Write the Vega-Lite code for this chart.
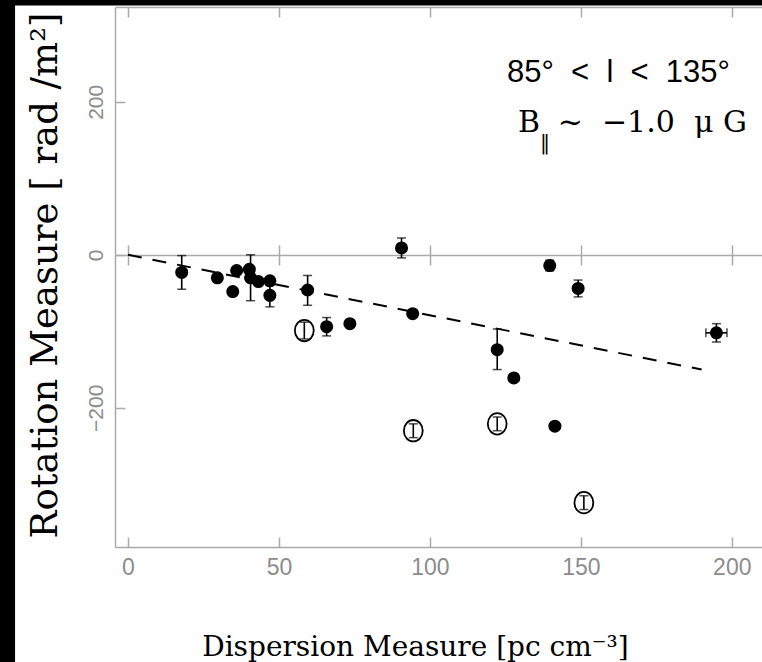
{
  "$schema": "https://vega.github.io/schema/vega-lite/v6.json",
  "width": 647,
  "height": 540,
  "autosize": {"type": "none"},
  "padding": {"left": 115, "top": 7, "right": 0, "bottom": 115},
  "background": "white",
  "config": {"view": {"stroke": null}, "axis": {"grid": false}},
  "datasets": {
    "pts": [
      {"dm": 17.8, "rm": -23, "kind": "filled", "rmLo": -45, "rmHi": -1},
      {"dm": 29.6, "rm": -30, "kind": "filled", "rmLo": -35, "rmHi": -25},
      {"dm": 34.7, "rm": -48, "kind": "filled"},
      {"dm": 36.0, "rm": -20.5, "kind": "filled"},
      {"dm": 40.2, "rm": -19, "kind": "filled"},
      {"dm": 40.6, "rm": -30, "kind": "filled", "rmLo": -60, "rmHi": 0},
      {"dm": 43.2, "rm": -35, "kind": "filled"},
      {"dm": 47.0, "rm": -34, "kind": "filled"},
      {"dm": 47.0, "rm": -53, "kind": "filled", "rmLo": -68, "rmHi": -40},
      {"dm": 59.5, "rm": -46, "kind": "filled", "rmLo": -66, "rmHi": -27},
      {"dm": 65.8, "rm": -94, "kind": "filled", "rmLo": -106, "rmHi": -82},
      {"dm": 73.5, "rm": -90, "kind": "filled"},
      {"dm": 90.6, "rm": 9, "kind": "filled", "rmLo": -4, "rmHi": 22},
      {"dm": 94.3, "rm": -77, "kind": "filled", "rmLo": -81, "rmHi": -73},
      {"dm": 122.3, "rm": -124, "kind": "filled", "rmLo": -150, "rmHi": -97},
      {"dm": 127.8, "rm": -161, "kind": "filled"},
      {"dm": 139.7, "rm": -14, "kind": "filled", "rmLo": -21, "rmHi": -7},
      {"dm": 141.4, "rm": -224, "kind": "filled"},
      {"dm": 149.1, "rm": -44, "kind": "filled", "rmLo": -55, "rmHi": -33},
      {"dm": 194.9, "rm": -102, "kind": "filled", "rmLo": -114, "rmHi": -90, "dmLo": 191.4, "dmHi": 198.4},
      {"dm": 58.4, "rm": -99, "kind": "open", "rmLo": -110, "rmHi": -88},
      {"dm": 94.5, "rm": -230, "kind": "open", "rmLo": -239, "rmHi": -221},
      {"dm": 122.3, "rm": -221, "kind": "open", "rmLo": -230, "rmHi": -212},
      {"dm": 151.0, "rm": -324, "kind": "open", "rmLo": -333, "rmHi": -315}
    ],
    "fit": [
      {"dm": 0, "rm": 0},
      {"dm": 190, "rm": -150}
    ]
  },
  "resolve": {"axis": {"x": "independent", "y": "independent"}},
  "layer": [
    {
      "data": {"values": [{"part": "left"}]},
      "mark": {"type": "rect", "color": "black"},
      "encoding": {
        "x": {"datum": -60, "type": "quantitative", "scale": {"domain": [-4.3, 210], "nice": false, "zero": false}, "axis": null},
        "x2": {"datum": -37.4},
        "y": {"datum": 420, "type": "quantitative", "scale": {"domain": [-382, 324], "nice": false, "zero": false}, "axis": null},
        "y2": {"datum": -700}
      }
    },
    {
      "data": {"values": [{"part": "top"}]},
      "mark": {"type": "rect", "color": "black"},
      "encoding": {
        "x": {"datum": -60, "type": "quantitative", "scale": {"domain": [-4.3, 210], "nice": false, "zero": false},
          "axis": {"orient": "bottom", "offset": -292, "values": [0, 50, 100, 150, 200], "tickSize": -10, "tickColor": "#aaaaaa", "tickWidth": 1.5, "domain": false, "labels": false, "title": null, "grid": false}},
        "x2": {"datum": 260},
        "y": {"datum": 420, "type": "quantitative", "scale": {"domain": [-382, 324], "nice": false, "zero": false}, "axis": null},
        "y2": {"datum": 326}
      }
    },
    {
      "data": {"name": "fit"},
      "mark": {"type": "line", "color": "black", "strokeWidth": 2, "strokeDash": [14, 11]},
      "encoding": {
        "x": {"field": "dm", "type": "quantitative", "scale": {"domain": [-4.3, 210], "nice": false, "zero": false},
          "axis": {"orient": "top", "values": [0, 50, 100, 150, 200], "tickSize": -10, "tickColor": "#aaaaaa", "tickWidth": 1.5, "domainColor": "#aaaaaa", "domainWidth": 1.5, "labels": false, "title": null, "grid": false}},
        "y": {"field": "rm", "type": "quantitative", "scale": {"domain": [-382, 324], "nice": false, "zero": false}, "axis": null}
      }
    },
    {
      "data": {"name": "pts"},
      "transform": [{"filter": "datum.kind === 'filled'"}],
      "mark": {"type": "point", "shape": "circle", "filled": true, "color": "black", "opacity": 1, "size": 170},
      "encoding": {
        "x": {"field": "dm", "type": "quantitative", "scale": {"domain": [-4.3, 210], "nice": false, "zero": false},
          "axis": {"orient": "bottom", "values": [0, 50, 100, 150, 200], "tickSize": -10, "tickColor": "#aaaaaa", "tickWidth": 1.5, "domainColor": "#aaaaaa", "domainWidth": 1.5,
            "labelFont": "Liberation Sans", "labelFontSize": 23, "labelColor": "#8c8c8c", "labelPadding": 19, "labelFlush": false, "labelOverlap": false, "grid": false,
            "title": "Dispersion Measure [pc cm⁻³]", "titleFont": "DejaVu Serif", "titleFontSize": 28, "titleFontWeight": "normal", "titleColor": "black",
            "titleX": 300, "titleY": 108, "titleAlign": "center", "titleBaseline": "alphabetic", "titleAnchor": null}},
        "y": {"field": "rm", "type": "quantitative", "scale": {"domain": [-382, 324], "nice": false, "zero": false},
          "axis": {"orient": "left", "values": [-200, 0, 200], "tickSize": -10, "tickColor": "#aaaaaa", "tickWidth": 1.5, "domainColor": "#aaaaaa", "domainWidth": 1.5,
            "labelFont": "Liberation Sans", "labelFontSize": 21, "labelColor": "#8c8c8c", "labelAngle": 270, "labelAlign": "center", "labelBaseline": "alphabetic", "labelPadding": 23, "labelOverlap": false, "labelFlush": false, "grid": false,
            "title": "Rotation Measure [ rad /m²]", "titleFont": "DejaVu Serif", "titleFontSize": 37, "titleFontWeight": "normal", "titleColor": "black",
            "titleAngle": 270, "titleX": -59, "titleY": 268, "titleAlign": "center", "titleBaseline": "alphabetic", "titleAnchor": null}}
      }
    },
    {
      "data": {"name": "pts"},
      "transform": [{"filter": "datum.kind === 'open'"}],
      "mark": {"type": "point", "shape": "M-0.88,0A0.88,1,0,1,1,0.88,0A0.88,1,0,1,1,-0.88,0Z", "filled": false, "color": "black", "strokeWidth": 1.8, "opacity": 1, "size": 460},
      "encoding": {
        "x": {"field": "dm", "type": "quantitative", "scale": {"domain": [-4.3, 210], "nice": false, "zero": false},
          "axis": {"orient": "bottom", "offset": -292, "values": [0, 50, 100, 150, 200], "tickSize": 10, "tickColor": "#aaaaaa", "tickWidth": 1.5, "domainColor": "#aaaaaa", "domainWidth": 1.5, "labels": false, "title": null, "grid": false}},
        "y": {"field": "rm", "type": "quantitative", "scale": {"domain": [-382, 324], "nice": false, "zero": false}, "axis": null}
      }
    },
    {
      "data": {"name": "pts"},
      "transform": [{"filter": "isValid(datum.rmLo)"}],
      "mark": {"type": "errorbar", "color": "black", "ticks": {"size": 9, "thickness": 1.5}, "rule": {"strokeWidth": 1.6}},
      "encoding": {
        "x": {"field": "dm", "type": "quantitative", "scale": {"domain": [-4.3, 210], "nice": false, "zero": false}, "axis": null},
        "y": {"field": "rmLo", "type": "quantitative", "scale": {"domain": [-382, 324], "nice": false, "zero": false}, "axis": null},
        "y2": {"field": "rmHi"}
      }
    },
    {
      "data": {"name": "pts"},
      "transform": [{"filter": "isValid(datum.dmLo)"}],
      "mark": {"type": "errorbar", "color": "black", "ticks": {"size": 9, "thickness": 1.5}, "rule": {"strokeWidth": 1.6}},
      "encoding": {
        "x": {"field": "dmLo", "type": "quantitative", "scale": {"domain": [-4.3, 210], "nice": false, "zero": false}, "axis": null},
        "x2": {"field": "dmHi"},
        "y": {"field": "rm", "type": "quantitative", "scale": {"domain": [-382, 324], "nice": false, "zero": false}, "axis": null}
      }
    },
    {
      "data": {"values": [{"label": "85°\u00a0\u00a0<\u00a0\u00a0l\u00a0\u00a0<\u00a0\u00a0135°"}]},
      "mark": {"type": "text", "align": "right", "baseline": "alphabetic", "font": "Liberation Sans", "fontSize": 31, "color": "black"},
      "encoding": {
        "x": {"datum": 199.4, "type": "quantitative", "scale": {"domain": [-4.3, 210], "nice": false, "zero": false}, "axis": null},
        "y": {"datum": 226, "type": "quantitative", "scale": {"domain": [-382, 324], "nice": false, "zero": false}, "axis": null},
        "text": {"field": "label"}
      }
    },
    {
      "data": {"values": [{"label": "~\u00a0\u00a0−1.0\u00a0\u00a0μ\u00a0G"}]},
      "mark": {"type": "text", "align": "right", "baseline": "alphabetic", "font": "DejaVu Serif", "fontSize": 30, "color": "black"},
      "encoding": {
        "x": {"datum": 205, "type": "quantitative", "scale": {"domain": [-4.3, 210], "nice": false, "zero": false}, "axis": null},
        "y": {"datum": 160.6, "type": "quantitative", "scale": {"domain": [-382, 324], "nice": false, "zero": false}, "axis": null},
        "text": {"field": "label"}
      }
    },
    {
      "data": {"values": [{"label": "B"}]},
      "mark": {"type": "text", "align": "left", "baseline": "alphabetic", "font": "DejaVu Serif", "fontSize": 30, "color": "black"},
      "encoding": {
        "x": {"datum": 129.2, "type": "quantitative", "scale": {"domain": [-4.3, 210], "nice": false, "zero": false}, "axis": null},
        "y": {"datum": 160.6, "type": "quantitative", "scale": {"domain": [-382, 324], "nice": false, "zero": false}, "axis": null},
        "text": {"field": "label"}
      }
    },
    {
      "data": {"values": [{"label": "‖"}]},
      "mark": {"type": "text", "align": "left", "baseline": "alphabetic", "font": "DejaVu Serif", "fontSize": 20, "color": "black"},
      "encoding": {
        "x": {"datum": 136.5, "type": "quantitative", "scale": {"domain": [-4.3, 210], "nice": false, "zero": false}, "axis": null},
        "y": {"datum": 139, "type": "quantitative", "scale": {"domain": [-382, 324], "nice": false, "zero": false}, "axis": null},
        "text": {"field": "label"}
      }
    }
  ]
}
